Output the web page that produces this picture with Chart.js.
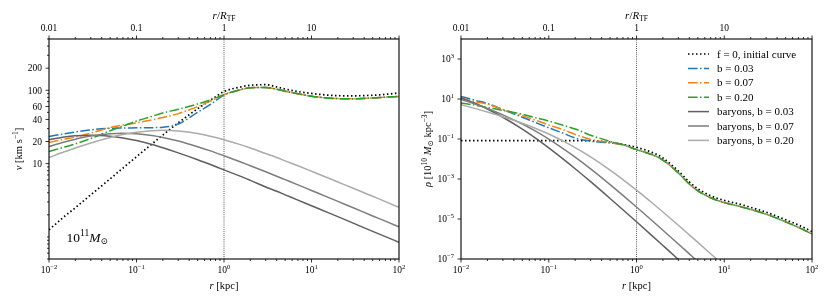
<!DOCTYPE html>
<html>
<head>
<meta charset="utf-8">
<script src="https://cdn.jsdelivr.net/npm/chart.js@4.4.1/dist/chart.umd.min.js"></script>
<style>
  body { margin: 0; background: #fff; }
  #wrap { position: relative; width: 830px; height: 302px; }
  canvas { position: absolute; top: 0; }
</style>
</head>
<body>
<div id="wrap">
  <canvas id="velChart" width="415" height="302" style="left:0"></canvas>
  <canvas id="rhoChart" width="415" height="302" style="left:415px"></canvas>
</div>
<script>
var radii = [0.01, 0.015, 0.02, 0.03, 0.05, 0.07, 0.1, 0.15, 0.2, 0.3, 0.5, 0.7, 1, 1.5, 2, 3, 4, 5, 7, 10, 15, 20, 30, 50, 70, 100];
var rTF = 1; // r / R_TF = 1 marker

// circular velocity [km/s]
var vInitial = [1.25, 1.9, 2.5, 3.75, 6.2, 8.7, 12.4, 18.5, 24.5, 36, 56, 73, 96, 110, 117, 119, 111, 104, 96, 90.5, 86, 84.3, 84, 85.5, 88, 92];
var vB003 = [23.4, 25.5, 27, 28.8, 30.3, 30.6, 30.7, 30.9, 31.3, 34.6, 50, 64, 86, 101, 108, 109, 103.5, 97, 89.5, 83, 78.5, 77, 76.5, 78.5, 80.5, 82.5];
var vB007 = [19.4, 21.5, 23, 26, 31, 33.5, 36, 39.5, 42.5, 48, 60, 71, 87, 101, 108, 109, 103.5, 97, 89.5, 83, 78.5, 77, 76.5, 78.5, 80.5, 82.5];
var vB020 = [14.6, 16.8, 18.6, 22, 28, 32.5, 38, 44, 49, 55, 65, 74, 87, 101, 108, 109, 103.5, 97, 89.5, 83, 78.5, 77, 76.5, 78.5, 80.5, 82.5];
var vBar003 = [21.1, 23.0, 23.9, 24.4, 23.6, 22.4, 20.6, 18.2, 16.4, 14.0, 11.3, 9.7, 8.2, 6.8, 5.9, 4.8, 4.19, 3.75, 3.18, 2.66, 2.18, 1.89, 1.54, 1.19, 1.01, 0.845];
var vBar007 = [17.1, 19.7, 21.5, 23.7, 25.5, 25.9, 25.5, 24.1, 22.7, 20.3, 17.0, 14.9, 12.8, 10.7, 9.36, 7.73, 6.73, 6.04, 5.13, 4.30, 3.52, 3.05, 2.50, 1.93, 1.64, 1.37];
var vBar020 = [12.1, 14.5, 16.3, 19.1, 22.7, 24.9, 26.8, 28.1, 28.4, 27.8, 25.7, 23.6, 21.2, 18.3, 16.3, 13.7, 12.1, 10.9, 9.33, 7.87, 6.47, 5.62, 4.61, 3.58, 3.03, 2.53];

// density [1e10 Msun / kpc^3]
var rhoInitial = [0.083, 0.083, 0.083, 0.083, 0.083, 0.083, 0.083, 0.083, 0.083, 0.082, 0.069, 0.0535, 0.038, 0.0214, 0.0112, 2.5e-3, 7.1e-4, 3.24e-4, 1.45e-4, 8.5e-5, 5.5e-5, 3.8e-5, 2.2e-5, 9.1e-6, 5.0e-6, 2.35e-6];
var rhoB003 = [13.5, 8.3, 5.9, 2.95, 1.23, 0.676, 0.363, 0.186, 0.112, 0.0776, 0.063, 0.0513, 0.0295, 0.0166, 8.9e-3, 2.0e-3, 5.6e-4, 2.57e-4, 1.15e-4, 6.6e-5, 4.27e-5, 3.0e-5, 1.74e-5, 7.2e-6, 3.8e-6, 1.78e-6];
var rhoB007 = [11.2, 7.1, 5.5, 3.0, 1.48, 0.89, 0.5, 0.28, 0.17, 0.0955, 0.066, 0.0513, 0.0295, 0.0166, 8.9e-3, 2.0e-3, 5.6e-4, 2.57e-4, 1.15e-4, 6.6e-5, 4.27e-5, 3.0e-5, 1.74e-5, 7.2e-6, 3.8e-6, 1.78e-6];
var rhoB020 = [6.3, 4.8, 3.8, 2.7, 1.74, 1.17, 0.79, 0.468, 0.316, 0.155, 0.076, 0.0513, 0.0295, 0.0166, 8.9e-3, 2.0e-3, 5.6e-4, 2.57e-4, 1.15e-4, 6.6e-5, 4.27e-5, 3.0e-5, 1.74e-5, 7.2e-6, 3.8e-6, 1.78e-6];
var rhoBar003 = [11.2, 5.8, 3.17, 1.22, 0.31, 0.113, 0.0361, 9.06e-3, 3.26e-3, 7.36e-4, 1.065e-4, 2.91e-5, 7.26e-6, 1.476e-6, 4.74e-7, 9.5e-8, 3.0e-8];
var rhoBar007 = [9.49, 5.27, 3.33, 1.619, 0.562, 0.2529, 0.0989, 0.0304, 0.01234, 3.197e-3, 5.246e-4, 1.52e-4, 3.966e-5, 8.37e-6, 2.739e-6, 5.597e-7, 1.8e-7, 7.46e-8, 1.96e-8];
var rhoBar020 = [5.16, 3.203, 2.242, 1.308, 0.6112, 0.3466, 0.1769, 0.07425, 0.0373, 0.01273, 2.784e-3, 9.357e-4, 2.763e-4, 6.479e-5, 2.242e-5, 4.857e-6, 1.61e-6, 6.79e-7, 1.828e-7, 4.5e-8];

var seriesLabels = ['f = 0, initial curve', 'b = 0.03', 'b = 0.07', 'b = 0.20', 'baryons, b = 0.03', 'baryons, b = 0.07', 'baryons, b = 0.20'];

// tick labels
var rTicks = [0.01, 0.1, 1, 10, 100];
var rTFTicks = [0.01, 0.1, 1, 10];
var rTFLabels = ['0.01', '0.1', '1', '10'];
var vTicks = [10, 20, 40, 60, 100, 200];
var vLabels = ['10', '20', '40', '60', '100', '200'];
var rhoTicks = [1e-7, 1e-5, 1e-3, 1e-1, 1e1, 1e3];

var FONT = '"Liberation Serif", "DejaVu Serif", serif';
var DOTS = [1.5, 2.5];
var DASHDOT = [9.6, 2.4, 1.5, 2.4];
var styles = [
  {color: '#000000', dash: DOTS, width: 1.7},
  {color: '#1f77b4', dash: DASHDOT, width: 1.5},
  {color: '#ff7f0e', dash: DASHDOT, width: 1.5},
  {color: '#2ca02c', dash: DASHDOT, width: 1.5},
  {color: '#5f5f5f', dash: [], width: 1.5},
  {color: '#7d7d7d', dash: [], width: 1.5},
  {color: '#ababab', dash: [], width: 1.5}
];

function points(vals) {
  return vals.map(function(v, i) { return {x: radii[i], y: v}; });
}

function buildDatasets(seriesList, yMin, yMax) {
  var sets = [{
    label: '',
    data: [{x: rTF, y: yMin}, {x: rTF, y: yMax}],
    borderColor: '#000',
    borderWidth: 0.8,
    borderDash: [0.8, 1.3],
    order: 20
  }];
  seriesList.forEach(function(vals, i) {
    sets.push({
      label: seriesLabels[i],
      data: points(vals),
      borderColor: styles[i].color,
      borderWidth: styles[i].width,
      borderDash: styles[i].dash,
      order: 10 - i //later series on top, like the original
    });
  });
  return sets;
}

// draws a list of text runs (for italics / super- and subscripts)
function drawRuns(ctx, runs, x, y, align) {
  var total = 0;
  runs.forEach(function(r) {
    ctx.font = (r.italic ? 'italic ' : '') + r.size + 'px ' + FONT;
    r.w = ctx.measureText(r.t).width;
    total += r.w;
  });
  var cx = align === 'center' ? x - total / 2 : (align === 'right' ? x - total : x);
  ctx.textAlign = 'left';
  ctx.textBaseline = 'alphabetic';
  runs.forEach(function(r) {
    ctx.font = (r.italic ? 'italic ' : '') + r.size + 'px ' + FONT;
    ctx.fillText(r.t, cx, y + (r.dy || 0));
    cx += r.w;
  });
}

function pow10(v, size) {
  var e = Math.round(Math.log10(v));
  var s = (e < 0 ? '\u2212' : '') + Math.abs(e);
  return [{t: '10', size: size}, {t: s, size: size * 0.7, dy: -size * 0.42}];
}

function isIn(v, list) {
  return list.some(function(m) { return Math.abs(v / m - 1) < 1e-6; });
}

// all 1..9 x 10^n values inside [min, max]
function logSteps(min, max) {
  var out = [];
  for (var d = Math.floor(Math.log10(min)); d <= Math.ceil(Math.log10(max)); d++) {
    for (var m = 1; m <= 9; m++) {
      var v = m * Math.pow(10, d);
      if (v >= min * 0.9999 && v <= max * 1.0001) out.push(v);
    }
  }
  return out;
}

var TICK = 9.5;
var TITLE = 10.5;

function axesPlugin(opts) {
  return {
    id: 'axesDeco',
    afterDraw: function(chart) {
      var ctx = chart.ctx;
      var a = chart.chartArea;
      var sx = chart.scales.x, sx2 = chart.scales.x2, sy = chart.scales.y;
      ctx.save();
      ctx.fillStyle = '#000';
      ctx.strokeStyle = '#000';

      // frame
      ctx.lineWidth = 1.1;
      ctx.strokeRect(a.left, a.top, a.right - a.left, a.bottom - a.top);

      // x ticks (bottom and top share the same radii)
      ctx.lineWidth = 0.8;
      logSteps(0.01, 100).forEach(function(v) {
        var major = isIn(v, rTicks);
        var len = major ? 3.5 : 2;
        var px = sx.getPixelForValue(v);
        ctx.beginPath();
        ctx.moveTo(px, a.bottom); ctx.lineTo(px, a.bottom + len);
        var pt = sx2.getPixelForValue(v);
        ctx.moveTo(pt, a.top); ctx.lineTo(pt, a.top - len);
        ctx.stroke();
      });
      rTicks.forEach(function(v) {
        drawRuns(ctx, pow10(v, TICK), sx.getPixelForValue(v), a.bottom + 13.5, 'center');
      });
      rTFTicks.forEach(function(v, i) {
        drawRuns(ctx, [{t: rTFLabels[i], size: TICK}], sx2.getPixelForValue(v), a.top - 8.5, 'center');
      });

      // y ticks
      var yVals = opts.yMinor ? logSteps(sy.min, sy.max) : opts.yTicks;
      yVals.forEach(function(v) {
        var major = isIn(v, opts.yTicks);
        var py = sy.getPixelForValue(v);
        ctx.beginPath();
        ctx.moveTo(a.left, py); ctx.lineTo(a.left - (major ? 3.5 : 2), py);
        ctx.stroke();
      });
      opts.yTicks.forEach(function(v, i) {
        var runs = opts.yLabels ? [{t: opts.yLabels[i], size: TICK}] : pow10(v, TICK);
        drawRuns(ctx, runs, a.left - 7, sy.getPixelForValue(v) + 3.3, 'right');
      });

      // axis titles
      var midX = (a.left + a.right) / 2;
      drawRuns(ctx, [{t: 'r', italic: true, size: TITLE}, {t: ' [kpc]', size: TITLE}], midX, a.bottom + 29.5, 'center');
      drawRuns(ctx, [{t: 'r', italic: true, size: TITLE + 0.5}, {t: '/', size: TITLE + 0.5}, {t: 'R', italic: true, size: TITLE + 0.5},
        {t: 'TF', size: 7.5, dy: 1.8}], midX, a.top - 20, 'center');
      ctx.save();
      ctx.translate(opts.yTitleX, (a.top + a.bottom) / 2);
      ctx.rotate(-Math.PI / 2);
      drawRuns(ctx, opts.yTitle, 0, 3.5, 'center');
      ctx.restore();

      if (opts.extra) opts.extra(chart, ctx);
      ctx.restore();
    }
  };
}

function baseOptions(yMin, yMax, yWidth, padRight) {
  var hidden = {display: false};
  return {
    responsive: false,
    animation: false,
    events: [],
    layout: {padding: {left: 0, right: padRight, top: 0, bottom: 0}},
    elements: {
      point: {radius: 0},
      line: {cubicInterpolationMode: 'monotone', fill: false}
    },
    plugins: {legend: hidden, tooltip: {enabled: false}},
    scales: {
      x: {type: 'logarithmic', position: 'bottom', min: 0.01, max: 100,
        ticks: hidden, grid: hidden, border: hidden,
        afterFit: function(s) { s.height = 43; }},
      x2: {type: 'logarithmic', axis: 'x', position: 'top', min: 0.01, max: 100,
        ticks: hidden, grid: hidden, border: hidden,
        afterFit: function(s) { s.height = 39; }},
      y: {type: 'logarithmic', position: 'left', min: yMin, max: yMax,
        ticks: hidden, grid: hidden, border: hidden,
        afterFit: function(s) { s.width = yWidth; }}
    }
  };
}

// left: rotation curves
new Chart(document.getElementById('velChart'), {
  type: 'line',
  data: {datasets: buildDatasets([vInitial, vB003, vB007, vB020, vBar003, vBar007, vBar020], 0.5, 500)},
  options: baseOptions(0.5, 500, 49, 16),
  plugins: [axesPlugin({
    yTicks: vTicks, yLabels: vLabels, yMinor: true, yTitleX: 18,
    yTitle: [{t: 'v', italic: true, size: TITLE}, {t: ' [km s', size: TITLE}, {t: '\u22121', size: 7.5, dy: -4}, {t: ']', size: TITLE}],
    extra: function(chart, ctx) {
      drawRuns(ctx, [{t: '10', size: 13.5}, {t: '11', size: 9.5, dy: -6}, {t: 'M', italic: true, size: 13.5},
        {t: '\u2299', size: 9, dy: 2.5}], 66.5, 241.5, 'left');
    }
  })]
});

// right: density profiles
new Chart(document.getElementById('rhoChart'), {
  type: 'line',
  data: {datasets: buildDatasets([rhoInitial, rhoB003, rhoB007, rhoB020, rhoBar003, rhoBar007, rhoBar020], 1e-7, 1e4)},
  options: baseOptions(1e-7, 1e4, 46, 18),
  plugins: [axesPlugin({
    yTicks: rhoTicks, yMinor: false, yTitleX: 12,
    yTitle: [{t: '\u03c1', italic: true, size: TITLE}, {t: ' [10', size: TITLE}, {t: '10', size: 7.5, dy: -4},
      {t: ' ', size: TITLE}, {t: 'M', italic: true, size: TITLE}, {t: '\u2299', size: 7.5, dy: 2},
      {t: ' kpc', size: TITLE}, {t: '\u22123', size: 7.5, dy: -4}, {t: ']', size: TITLE}],
    extra: function(chart, ctx) {
      // legend inside the plot, upper right
      var items = chart.data.datasets.filter(function(d) { return d.label; });
      items.forEach(function(d, i) {
        var y = 54 + i * 14.4;
        ctx.save();
        ctx.strokeStyle = d.borderColor;
        ctx.lineWidth = d.borderWidth;
        ctx.setLineDash(d.borderDash);
        ctx.beginPath();
        ctx.moveTo(273, y); ctx.lineTo(294, y);
        ctx.stroke();
        ctx.restore();
        drawRuns(ctx, [{t: d.label, size: 11}], 302, y + 3.5, 'left');
      });
    }
  })]
});
</script>
</body>
</html>
